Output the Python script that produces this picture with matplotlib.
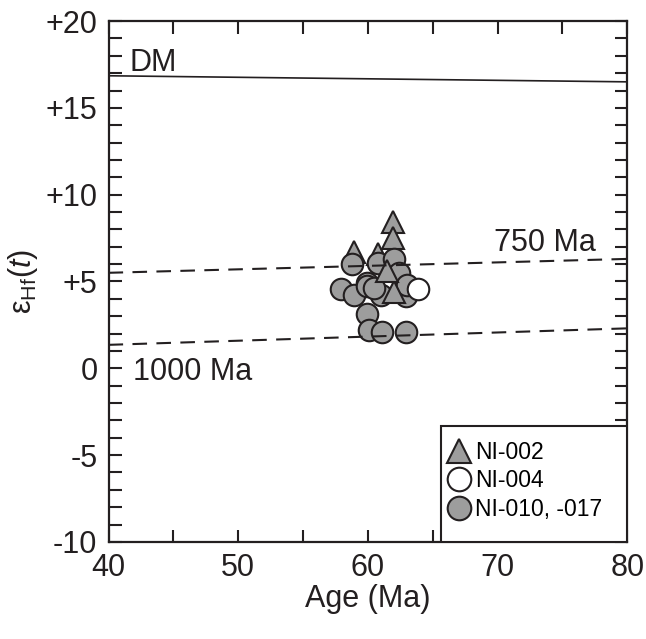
import numpy as np
import matplotlib
matplotlib.use('Agg')
import matplotlib.pyplot as plt
from matplotlib.lines import Line2D
from matplotlib.patches import Rectangle

plt.rcParams['font.family'] = ['Liberation Sans', 'DejaVu Sans']
plt.rcParams['mathtext.fontset'] = 'custom'
plt.rcParams['mathtext.rm'] = 'Liberation Sans'
plt.rcParams['mathtext.it'] = 'Liberation Sans:italic'

# reference evolution lines (age, eHf)
dm_age = [40, 80]
dm_ehf = [16.85, 16.5]
line750_age = [40, 80]
line750_ehf = [5.5, 6.3]
line1000_age = [40, 80]
line1000_ehf = [1.35, 2.3]

# NI-002 (triangles)
ni002_age = [58.9, 60.8, 61.9, 61.9, 62.0, 61.5]
ni002_ehf = [6.7, 6.6, 8.4, 7.5, 4.4, 5.6]

# NI-004 (open circles)
ni004_age = [63.9]
ni004_ehf = [4.55]

# NI-010, -017 (grey circles)
ni010_age = [58.8, 60.8, 62.0, 62.4, 57.9, 58.9, 59.9, 59.9, 61.0, 62.9, 63.0,
             59.9, 60.1, 61.1, 62.9, 60.5]
ni010_ehf = [6.0, 6.05, 6.3, 5.5, 4.55, 4.2, 4.9, 4.75, 4.2, 4.15, 4.8,
             3.15, 2.2, 2.1, 2.1, 4.6]

fig = plt.figure(figsize=(6.46, 6.39), dpi=100)
ax = fig.add_axes([0.168, 0.152, 0.803, 0.815])

ax.plot(dm_age, dm_ehf, color='#231f20', lw=1.2)
ax.plot(line750_age, line750_ehf, color='#231f20', lw=1.5, dashes=(7, 4.5), zorder=5)
ax.plot(line1000_age, line1000_ehf, color='#231f20', lw=1.5, dashes=(7, 4.5), zorder=5)

mk = dict(markersize=15.5, markeredgecolor='#231f20', markeredgewidth=1.5, linestyle='none')
ax.plot(ni002_age[:4], ni002_ehf[:4], marker='^', color='#9d9d9d', zorder=3, **mk)
ax.plot(ni010_age, ni010_ehf, marker='o', color='#9d9d9d', zorder=3, **mk)
ax.plot(ni002_age[4:], ni002_ehf[4:], marker='^', color='#9d9d9d', zorder=4, **mk)
ax.plot(ni004_age, ni004_ehf, marker='o', color='white', zorder=4, **mk)

ax.text(41.6, 17.6, 'DM', fontsize=22, va='center', ha='left', color='#231f20')
ax.text(69.7, 7.2, '750 Ma', fontsize=22, va='center', ha='left', color='#231f20')
ax.text(41.9, -0.2, '1000 Ma', fontsize=22, va='center', ha='left', color='#231f20')

ax.set_xlim(40, 80)
ax.set_ylim(-10, 20)
ax.set_xticks(np.arange(40, 81, 10))
ax.set_xticks(np.arange(45, 80, 10), minor=True)
ax.set_yticks(np.arange(-10, 21, 5))
ax.set_yticklabels(['-10', '-5', '0', '+5', '+10', '+15', '+20'])
ax.set_yticks(np.arange(-10, 21, 1), minor=True)
ax.tick_params(which='both', direction='in', length=9, width=1.5,
               top=True, right=True, labelsize=22, colors='#231f20', pad=8)
for s in ax.spines.values():
    s.set_linewidth(1.6)
    s.set_color('#231f20')

ax.set_xlabel('Age (Ma)', fontsize=22, color='#231f20', labelpad=1)
ax.set_ylabel(r'$\mathrm{\varepsilon}_{\mathrm{Hf}}(t)$', fontsize=22, color='#231f20', labelpad=4)

# legend box in lower right
ax.add_patch(Rectangle((0.641, 0.0), 0.359, 0.223, transform=ax.transAxes,
                       facecolor='white', edgecolor='#231f20', lw=1.5, zorder=6))
lmk = dict(mk, markersize=17)
handles = [
    Line2D([], [], marker='^', color='#9d9d9d', **lmk),
    Line2D([], [], marker='o', color='white', **lmk),
    Line2D([], [], marker='o', color='#9d9d9d', **lmk),
]
leg = ax.legend(handles, ['NI-002', 'NI-004', 'NI-010, -017'], loc='upper left',
                bbox_to_anchor=(0.625, 0.225), frameon=False, fontsize=16.5,
                handlelength=0.9, handletextpad=0.25, labelspacing=0.25,
                borderpad=0.2)
leg.set_zorder(7)

fig.savefig('out.png', dpi=100)
